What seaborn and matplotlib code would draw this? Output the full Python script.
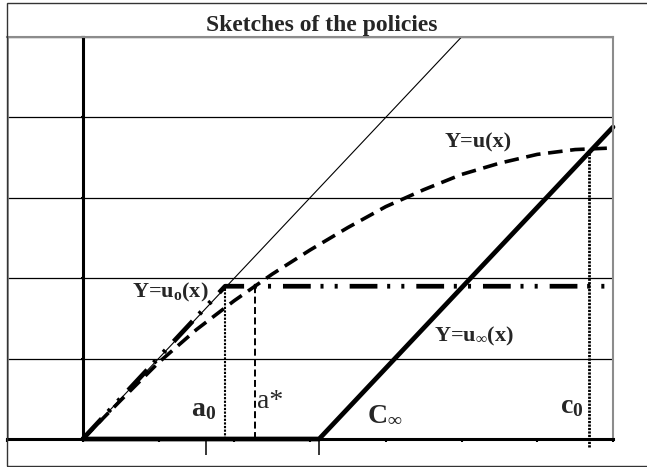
import numpy as np
import pandas as pd
import matplotlib
matplotlib.use("Agg")
import matplotlib.pyplot as plt
import matplotlib.patches as mpatches
import seaborn as sns

# ---- data ----
diag_x = [0.0, 5.0]                     # thin 45-degree line Y = x
diag_y = [0.0, 5.0]

u_x = [0.0, 0.5, 1.0, 1.5, 2.0, 2.5, 3.0, 3.5, 4.0, 4.5, 5.0, 5.5, 6.0, 6.5, 7.0]
u_y = [0.0, 0.48, 0.95, 1.36, 1.72, 2.05, 2.35, 2.63, 2.89, 3.10, 3.29, 3.43, 3.54, 3.60, 3.62]

u0_x = [0.0, 1.88, 7.0]                 # Y = u_o(x)
u0_y = [0.0, 1.90, 1.90]

uinf_x = [0.0, 3.12, 7.0]               # Y = u_inf(x)
uinf_y = [0.0, 0.0, 3.88]

a0 = 1.88
a_star = 2.28
u0_level = 1.90
c0 = 6.68
c0_level = 3.60
long_ticks = [1.63, 3.12]

x_ticks = [-1, 0, 1, 2, 3, 4, 5, 6, 7]
y_ticks = [0, 1, 2, 3, 4, 5]

title = "Sketches of the policies"

# ---- style ----
sns.set_theme(style="white")
plt.rcParams["font.family"] = ["Liberation Serif", "DejaVu Serif"]
plt.rcParams["mathtext.fontset"] = "custom"
plt.rcParams["mathtext.rm"] = "Liberation Serif:bold"
plt.rcParams["mathtext.bf"] = "Liberation Serif:bold"
plt.rcParams["mathtext.it"] = "Liberation Serif:bold"
plt.rcParams["lines.scale_dashes"] = False

W, H = 647, 467
fig = plt.figure(figsize=(W / 100, H / 100), dpi=100)
ax = fig.add_axes([7 / W, 28 / H, 606 / W, 402 / H])
ax.set_xlim(-1, 7)
ax.set_ylim(0, 5)

# grid / axes
ax.set_yticks(y_ticks)
ax.set_xticks(x_ticks)
ax.set_xticks(long_ticks, minor=True)
ax.set_xticklabels([])
ax.set_yticklabels([])
ax.set_axisbelow(True)
ax.yaxis.grid(True, color="black", lw=0.9)
ax.xaxis.grid(False)
ax.tick_params(axis="x", which="major", direction="out", length=2.2, width=1.5, color="black", bottom=True)
ax.tick_params(axis="x", which="minor", direction="out", length=11.5, width=1.1, color="black", bottom=True)
ax.tick_params(axis="y", which="major", direction="inout", length=3, width=1.5, color="black", left=True)

ax.spines["left"].set_position(("data", 0))
ax.spines["left"].set_color("black")
ax.spines["left"].set_linewidth(2.2)
ax.spines["bottom"].set_color("black")
ax.spines["bottom"].set_linewidth(2.2)
for s in ("top", "right"):
    ax.spines[s].set_color("#8c8c8c")
    ax.spines[s].set_linewidth(1.5)
ax.axvline(-1, color="#8c8c8c", lw=2.0)

# curves
sns.lineplot(x=diag_x, y=diag_y, ax=ax, color="black", lw=0.8, estimator=None, sort=False)
sns.lineplot(x=u_x, y=u_y, ax=ax, color="black", lw=2.6, estimator=None, sort=False,
             linestyle=(0, (10.5, 5.5)))
sns.lineplot(x=u0_x, y=u0_y, ax=ax, color="black", lw=3.4, estimator=None, sort=False,
             linestyle=(0, (20, 7, 2.2, 8, 2.2, 8.6)), clip_on=False)
sns.lineplot(x=uinf_x, y=uinf_y, ax=ax, color="black", lw=3.4, estimator=None, sort=False,
             clip_on=False, solid_joinstyle="round")

# vertical markers
ax.plot([a0, a0], [0, u0_level], color="black", lw=1.5, linestyle=(0, (1.6, 1.0)))
ax.plot([a_star, a_star], [0, u0_level], color="black", lw=1.4, linestyle=(0, (5, 2.5)))
ax.plot([c0, c0], [-0.1, c0_level], color="black", lw=2.0, linestyle=(0, (1.6, 0.9)), clip_on=False)

# labels
fs = 16
big = 20
bold = dict(fontweight="bold", ha="center", va="center")
ax.text(5.22, 3.69, "Y=u(x)", fontsize=fs, **bold)
ax.text(1.66, 1.82, r"Y=u$_{\mathbf{o}}$(x)", fontsize=fs, fontweight="bold", ha="right", va="center")
ax.text(5.16, 1.27, r"Y=u$_{\infty}$(x)", fontsize=fs, **bold)
ax.text(1.60, 0.36, r"a$_{\mathbf{0}}$", fontsize=big, **bold)
ax.text(2.47, 0.47, "a*", fontsize=big, ha="center", va="center")
ax.text(3.99, 0.30, r"C$_{\infty}$", fontsize=big, **bold)
ax.text(6.45, 0.40, r"c$_{\mathbf{0}}$", fontsize=big, **bold)

fig.text(322 / W, 1 - 25 / H, title, fontsize=17, fontweight="bold", ha="center", va="center")

# outer frame
fig.patches.append(mpatches.Rectangle((7 / W, 1.5 / H), 700 / W, 462.5 / H, transform=fig.transFigure,
                                      fill=False, ec="#333333", lw=1.0))

fig.savefig("out.png", dpi=100)
